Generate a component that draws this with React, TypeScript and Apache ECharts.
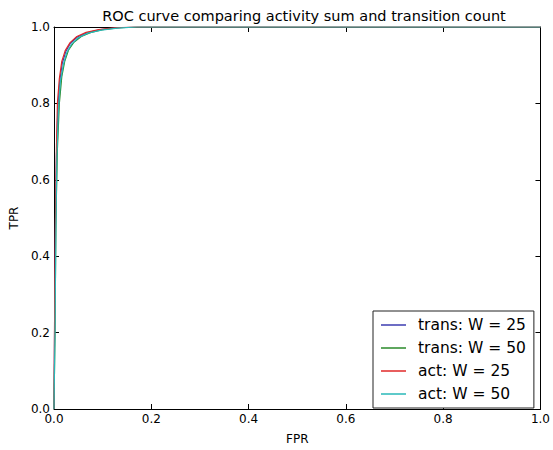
import React, { useEffect, useRef } from "react";
import * as echarts from "echarts";

const seriesNames = ["trans: W = 25", "trans: W = 50", "act: W = 25", "act: W = 50"];
const seriesColors = ["#3c3cb0", "#2a8a2a", "#e02828", "#28b8b8"];

const trans25: number[][] = [
  [0, 0], [0.001, 0.18], [0.003, 0.48], [0.005, 0.66], [0.008, 0.79], [0.012, 0.86],
  [0.017, 0.905], [0.024, 0.935], [0.034, 0.958], [0.048, 0.974], [0.068, 0.985],
  [0.095, 0.993], [0.13, 0.998], [0.17, 1.0], [1, 1],
];
const trans50: number[][] = [
  [0, 0], [0.002, 0.2], [0.004, 0.5], [0.007, 0.68], [0.011, 0.8], [0.016, 0.87],
  [0.022, 0.91], [0.03, 0.94], [0.041, 0.96], [0.056, 0.975], [0.076, 0.986],
  [0.1, 0.993], [0.135, 0.998], [0.175, 1.0], [1, 1],
];
const act25: number[][] = [
  [0, 0], [0.001, 0.2], [0.003, 0.49], [0.005, 0.68], [0.007, 0.8], [0.011, 0.865],
  [0.016, 0.91], [0.023, 0.938], [0.033, 0.959], [0.047, 0.975], [0.066, 0.986],
  [0.092, 0.993], [0.125, 0.998], [0.165, 1.0], [1, 1],
];
const act50: number[][] = [
  [0, 0], [0.002, 0.2], [0.004, 0.48], [0.006, 0.66], [0.009, 0.78], [0.013, 0.855],
  [0.019, 0.9], [0.026, 0.932], [0.036, 0.955], [0.05, 0.972], [0.07, 0.984],
  [0.097, 0.992], [0.13, 0.997], [0.17, 1.0], [1, 1],
];
const seriesData = [trans25, trans50, act25, act50];
const tickLabels = ["0.0", "0.2", "0.4", "0.6", "0.8", "1.0"];

const FONT = "DejaVu Sans";

export default function App() {
  const ref = useRef<HTMLDivElement>(null);
  useEffect(() => {
    if (!ref.current) return;
    const chart = echarts.init(ref.current, null, { renderer: "svg" });
    const fmt = (v: number) => tickLabels[Math.round(v * 5)] ?? v.toFixed(1);
    const baseAxis = {
      type: "value" as const,
      min: 0,
      max: 1,
      interval: 0.2,
      splitLine: { show: false },
      axisLine: { show: true, onZero: false, lineStyle: { color: "#000", width: 1 } },
      axisTick: { show: true, inside: true, length: 5, lineStyle: { color: "#000" } },
    };
    chart.setOption({
      animation: false,
      backgroundColor: "#fff",
      title: {
        text: "ROC curve comparing activity sum and transition count",
        left: 299,
        textAlign: "center",
        top: 3,
        textStyle: { fontFamily: FONT, fontSize: 14.5, fontWeight: "normal", color: "#000" },
      },
      grid: { left: 54, right: 8, top: 27, bottom: 37 },
      xAxis: [
        {
          ...baseAxis,
          position: "bottom",
          name: "FPR",
          nameLocation: "middle",
          nameGap: 24,
          nameTextStyle: { fontFamily: FONT, fontSize: 12, color: "#000" },
          axisLabel: { fontFamily: FONT, fontSize: 12, color: "#000", margin: 4, formatter: fmt },
        },
        { ...baseAxis, position: "top", axisLabel: { show: false } },
      ],
      yAxis: [
        {
          ...baseAxis,
          position: "left",
          name: "TPR",
          nameLocation: "middle",
          nameGap: 33,
          nameTextStyle: { fontFamily: FONT, fontSize: 12, color: "#000" },
          axisLabel: { fontFamily: FONT, fontSize: 12, color: "#000", margin: 4, formatter: fmt },
        },
        { ...baseAxis, position: "right", axisLabel: { show: false } },
      ],
      legend: {
        orient: "vertical",
        left: 373,
        top: 311,
        backgroundColor: "#fff",
        borderColor: "#222",
        borderWidth: 1,
        borderRadius: 0,
        padding: [6, 8, 6, 8],
        itemGap: 7,
        itemWidth: 25,
        itemHeight: 1.5,
        icon: "rect",
        textStyle: { fontFamily: FONT, fontSize: 15.5, color: "#000", padding: [0, 0, 0, 7], lineHeight: 16 },
        data: seriesNames,
      },
      series: seriesNames.map((name, i) => ({
        name,
        type: "line",
        data: seriesData[i],
        showSymbol: false,
        symbol: "none",
        smooth: false,
        lineStyle: { color: seriesColors[i], width: 1.2 },
        itemStyle: { color: seriesColors[i] },
        xAxisIndex: 0,
        yAxisIndex: 0,
      })),
    });
    return () => chart.dispose();
  }, []);
  return <div ref={ref} style={{ width: 553, height: 450, position: "absolute", left: 0, top: 0 }} />;
}
